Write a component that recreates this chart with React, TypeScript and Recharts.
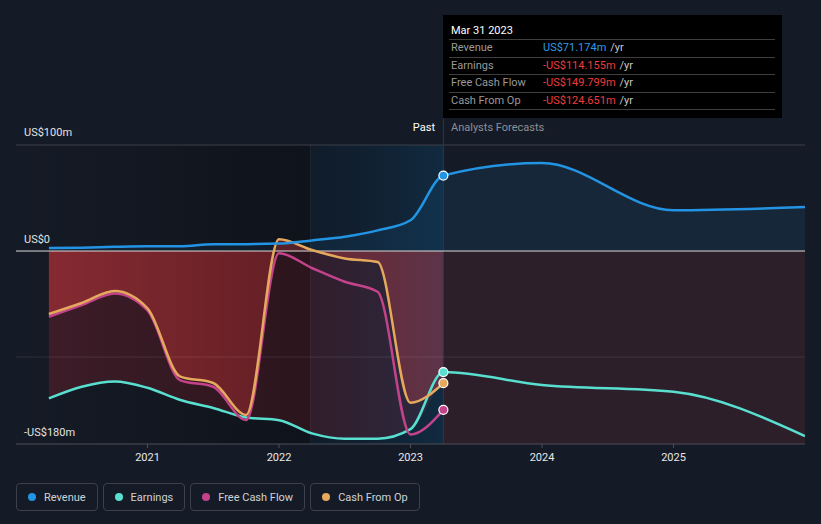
import React from "react";
import {
  ComposedChart,
  Area,
  Line,
  XAxis,
  YAxis,
  ReferenceArea,
  ReferenceLine,
} from "recharts";

// time axis in decimal years (quarter ends for the past, annual estimates after Mar 2023)
const years = [2020.25, 2020.5, 2020.75, 2021, 2021.25, 2021.5, 2021.75, 2022, 2022.25, 2022.5, 2022.75, 2023, 2023.25, 2024, 2025, 2026];
const revenue = [2.8, 3.2, 4, 4.5, 4.5, 6.5, 6.5, 7, 10, 13.5, 19.5, 29, 71.174, 83, 38.5, 41.5];
const earnings = [-139, -128, -123, -129, -140.5, -148, -157, -159.5, -172, -177, -177, -168, -114.155, -126.4, -132.7, -174.5];
const freeCashFlow = [-62, -51, -40, -56, -122, -128, -159.4, -2, -16, -29, -38.4, -173, -149.799, null, null, null];
const cashFromOp = [-59.4, -49, -37.7, -54, -118.5, -124.5, -154.7, 11, 1, -7, -10.4, -143, -124.651, null, null, null];

const xTicks = [2021, 2022, 2023, 2024, 2025];
const yLabels = [
  { value: 100, text: "US$100m" },
  { value: 0, text: "US$0" },
  { value: -180, text: "-US$180m" },
];

const PAST_END = 2023.25;
const BAND_START = 2022.24;

const COLORS = {
  revenue: "#2394e3",
  earnings: "#58dfcf",
  fcf: "#c2438a",
  cfo: "#e5a95e",
};

const data = years.map((year, i) => ({
  year,
  revenue: revenue[i],
  earnings: earnings[i],
  earningsPast: year <= PAST_END ? earnings[i] : null,
  fcf: freeCashFlow[i],
  cfo: cashFromOp[i],
}));

const endDot = (color: string) => (props: any) => {
  const { cx, cy, payload, index } = props;
  if (payload.year !== PAST_END) return <g key={index} />;
  return <circle key={index} cx={cx} cy={cy} r={4.5} fill={color} stroke="#ffffff" strokeWidth={1.2} />;
};

const yLabel = (text: string, dy: number) => (props: any) => {
  const vb = props.viewBox || {};
  return (
    <text x={24} y={vb.y + dy} fill="#e2e2e2" fontSize={11} dominantBaseline="middle">
      {text}
    </text>
  );
};

const legend = [
  { name: "Revenue", color: COLORS.revenue },
  { name: "Earnings", color: COLORS.earnings },
  { name: "Free Cash Flow", color: COLORS.fcf },
  { name: "Cash From Op", color: COLORS.cfo },
];

const tooltipRows = [
  { label: "Revenue", value: "US$71.174m", color: "#2d9be6" },
  { label: "Earnings", value: "-US$114.155m", color: "#ef3b3b" },
  { label: "Free Cash Flow", value: "-US$149.799m", color: "#ef3b3b" },
  { label: "Cash From Op", value: "-US$124.651m", color: "#ef3b3b" },
];

export default function App() {
  return (
    <div
      style={{
        position: "fixed",
        left: 0,
        top: 0,
        width: 821,
        height: 524,
        background: "#151b26",
        fontFamily: "Roboto, sans-serif",
        overflow: "hidden",
      }}
    >
      <ComposedChart width={821} height={524} data={data} margin={{ top: 145, right: 16, left: 16, bottom: 50 }}>
        <defs>
          <linearGradient id="pastShade" x1="0" y1="0" x2="1" y2="0">
            <stop offset="0%" stopColor="#000000" stopOpacity={0} />
            <stop offset="100%" stopColor="#000000" stopOpacity={0.3} />
          </linearGradient>
          <linearGradient id="bandShade" x1="0" y1="0" x2="1" y2="0">
            <stop offset="0%" stopColor="#00203a" stopOpacity={0.2} />
            <stop offset="100%" stopColor="#0a4670" stopOpacity={0.36} />
          </linearGradient>
        </defs>

        <XAxis
          dataKey="year"
          type="number"
          domain={[2020, 2026]}
          ticks={xTicks}
          tickFormatter={(v) => String(v)}
          height={30}
          stroke="#4a4f58"
          tick={{ fill: "#e8e8e8", fontSize: 11, dy: 3 }}
          tickSize={4}
          allowDataOverflow
        />
        <YAxis type="number" domain={[-182, 100]} hide allowDataOverflow />

        <ReferenceArea x1={PAST_END} x2={2026} y1={-182} y2={0} fill="#2c1f29" fillOpacity={1} stroke="none" />

        <Area dataKey="revenue" type="monotone" stroke="none" fill={COLORS.revenue} fillOpacity={0.1} baseValue={0} isAnimationActive={false} />
        <Area dataKey="earningsPast" type="monotone" stroke="none" fill="#c82832" fillOpacity={0.23} baseValue={0} isAnimationActive={false} />
        <Area dataKey="cfo" type="monotone" stroke="none" fill="#c8373c" fillOpacity={0.55} baseValue={0} isAnimationActive={false} />

        <ReferenceArea x1={2020} x2={BAND_START} y1={-182} y2={100} fill="url(#pastShade)" fillOpacity={1} stroke="none" />
        <ReferenceArea x1={BAND_START} x2={PAST_END} y1={-182} y2={100} fill="url(#bandShade)" fillOpacity={1} stroke="none" />

        <ReferenceLine y={100} stroke="#3a3f48" label={yLabel(yLabels[0].text, -12)} />
        <ReferenceLine y={-100} stroke="#ffffff" strokeOpacity={0.1} />
        <ReferenceLine y={yLabels[2].value} stroke="none" label={yLabel(yLabels[2].text, -9)} />
        <ReferenceLine x={BAND_START} stroke="#ffffff" strokeOpacity={0.06} />
        <ReferenceLine
          segment={[{ x: PAST_END, y: 125 }, { x: PAST_END, y: -182 }]}
          stroke="#1f3d57"
          ifOverflow="visible"
        />
        <ReferenceLine y={yLabels[1].value} stroke="#d9d9d9" label={yLabel(yLabels[1].text, -11)} />

        <Line dataKey="earnings" type="monotone" stroke={COLORS.earnings} strokeWidth={2.5} dot={endDot(COLORS.earnings)} activeDot={false} isAnimationActive={false} />
        <Line dataKey="fcf" type="monotone" stroke={COLORS.fcf} strokeWidth={2.5} dot={endDot(COLORS.fcf)} activeDot={false} isAnimationActive={false} />
        <Line dataKey="cfo" type="monotone" stroke={COLORS.cfo} strokeWidth={2.5} dot={endDot(COLORS.cfo)} activeDot={false} isAnimationActive={false} />
        <Line dataKey="revenue" type="monotone" stroke={COLORS.revenue} strokeWidth={2.5} dot={endDot(COLORS.revenue)} activeDot={false} isAnimationActive={false} />
      </ComposedChart>

      <div style={{ position: "absolute", left: 300, width: 135, top: 121, textAlign: "right", color: "#ffffff", fontSize: 11 }}>
        Past
      </div>
      <div style={{ position: "absolute", left: 451, top: 121, color: "#8b8f96", fontSize: 11 }}>Analysts Forecasts</div>

      <div
        style={{
          position: "absolute",
          left: 443,
          top: 15,
          width: 339,
          height: 103,
          background: "#000000",
          boxSizing: "border-box",
          padding: "0 7px 0 6px",
          fontSize: 11,
        }}
      >
        <div style={{ height: 25, lineHeight: "18px", paddingTop: 7, boxSizing: "border-box", color: "#ffffff", paddingLeft: 2, borderBottom: "1px solid #3e3e3e" }}>
          Mar 31 2023
        </div>
        {tooltipRows.map((r) => (
          <div key={r.label} style={{ height: 16.5, lineHeight: "16.5px", display: "flex", paddingLeft: 2, borderBottom: "1px solid #3e3e3e" }}>
            <span style={{ width: 92, color: "#9a9a9a" }}>{r.label}</span>
            <span style={{ color: r.color }}>{r.value}</span>
            <span style={{ color: "#c8c8c8", marginLeft: 4 }}>/yr</span>
          </div>
        ))}
      </div>

      <div style={{ position: "absolute", left: 16, top: 483, display: "flex", gap: 5 }}>
        {legend.map((l) => (
          <div
            key={l.name}
            style={{
              height: 28,
              boxSizing: "border-box",
              border: "1px solid #3b404b",
              borderRadius: 4,
              padding: "0 11px 0 11px",
              display: "flex",
              alignItems: "center",
              color: "#cfd2d6",
              fontSize: 11,
            }}
          >
            <span style={{ width: 8, height: 8, borderRadius: 4, background: l.color, marginRight: 8 }} />
            {l.name}
          </div>
        ))}
      </div>
    </div>
  );
}
